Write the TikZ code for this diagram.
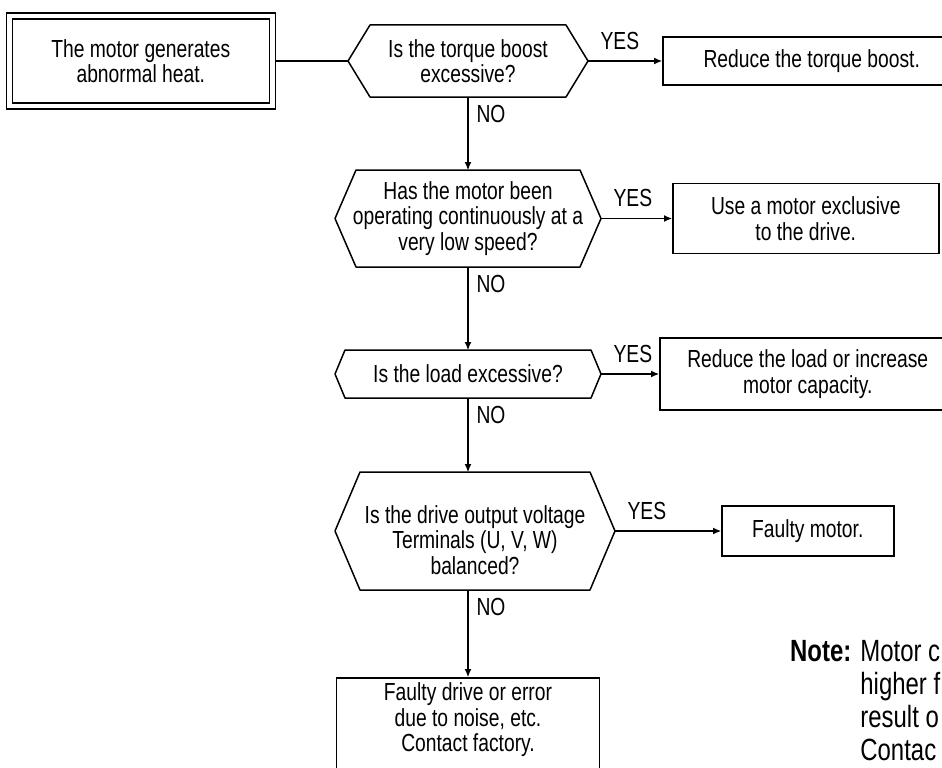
\documentclass[tikz,border=0pt]{standalone}
\usepackage{fontspec}
\setmainfont{Liberation Sans}[FakeStretch=0.78]
\usetikzlibrary{arrows.meta,positioning}

\newcommand{\boxfont}{\fontsize{24.7}{25.5}\selectfont}
\newcommand{\notefont}{\fontsize{30.7}{33}\selectfont}
% flat-topped hexagon round a query node, #2 = inset of the points
\newcommand{\hexframe}[2]{%
  \draw[hexline] ([xshift=#2]#1.north west) -- ([xshift=-#2]#1.north east) -- (#1.east)
    -- ([xshift=-#2]#1.south east) -- ([xshift=#2]#1.south west) -- (#1.west) -- cycle;}

\begin{document}
\begin{tikzpicture}[x=1pt,y=-1pt,
  node distance=74pt,
  query/.style={align=center,inner sep=0pt,outer sep=0pt},
  hexline/.style={line width=1.5pt,line join=round},
  action/.style={draw,line width=1.5pt,align=center,inner sep=3pt},
  first/.style={action,double,double distance=4.5pt,outer sep=3.7pt},
  link/.style={line width=1.1pt},
  flow/.style={link,-{Latex[length=8pt,width=7pt]}},
  yes/.style={pos=0,anchor=south west,xshift=10pt,yshift=9pt,inner sep=2pt},
  no/.style={pos=0,anchor=north west,xshift=6pt,yshift=-6pt,inner sep=2pt},
  font=\boxfont
]
\useasboundingbox (0,0) rectangle (942,768);
\clip (0,0) rectangle (942,768);

% questions
\node[query,minimum width=240pt,minimum height=72pt] (q1) at (468,61) {Is the torque boost\\excessive?};
\node[query,minimum width=266pt,minimum height=97pt,below=73pt of q1] (q2) {Has the motor been\\operating continuously at a\\very low speed?};
\node[query,minimum width=266pt,minimum height=48pt,below=83pt of q2] (q3) {Is the load excessive?};
\node[query,minimum width=280pt,minimum height=118pt,text height=87pt,below=74pt of q3,xshift=7pt] (q4) {Is the drive output voltage\\Terminals (U, V, W)\\balanced?};
\hexframe{q1}{22pt}
\hexframe{q2}{21pt}
\hexframe{q3}{10pt}
\hexframe{q4}{25pt}

% start and answers
\node[first,minimum width=263pt,minimum height=90pt,left=72pt of q1] (start) {The motor generates\\abnormal heat.};
\node[action,minimum width=298pt,minimum height=48pt,right=74pt of q1] (a1) {Reduce the torque boost.};
\node[action,minimum width=266pt,minimum height=70pt,right=71pt of q2] (a2) {Use a motor exclusive\\to the drive.};
\node[action,minimum width=296pt,minimum height=72pt,right=58pt of q3] (a3) {Reduce the load or increase\\motor capacity.};
\node[action,minimum width=172pt,minimum height=50pt,right=106pt of q4] (a4) {Faulty motor.};
\node[action,minimum width=263pt,text depth=40pt,inner ysep=5pt,below=87pt of q4,xshift=-7pt] (a5) {Faulty drive or error\\due to noise, etc.\\Contact factory.};

% connectors
\draw[link] (start) -- (q1);
\draw[flow] (q1) -- node[yes]{YES} (a1);
\draw[flow] (q1) -- node[no]{NO} (q2);
\draw[flow] (q2) -- node[yes]{YES} (a2);
\draw[flow] (q2) -- node[no]{NO} (q3);
\draw[flow] (q3) -- node[yes]{YES} (a3);
\draw[flow] (q3) -- node[no]{NO} (q3.south |- q4.north);
\draw[flow] (q4) -- node[yes]{YES} (a4);
\draw[flow] (q4.south -| a5.north) -- node[no]{NO} (a5);

% note, cut at the right edge
\node[anchor=north west,inner sep=0pt,font=\notefont] (note) at (790,638)
  {\begin{tabular}{@{}l@{\hspace{9pt}}l@{}}\textbf{Note:} & Motor c\\ & higher f\\ & result o\\ & Contac\end{tabular}};
\end{tikzpicture}
\end{document}
